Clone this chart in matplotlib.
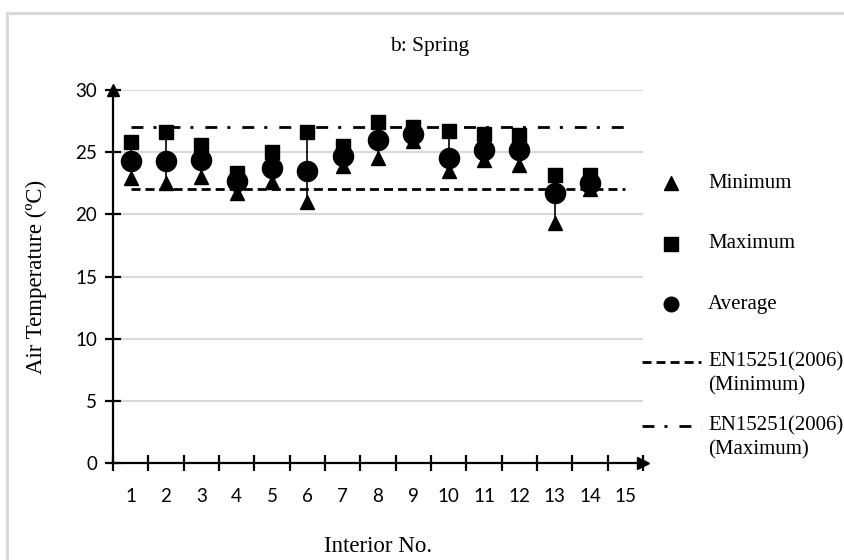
import numpy as np
import matplotlib
matplotlib.use("Agg")
import matplotlib.pyplot as plt
from matplotlib.lines import Line2D

plt.rcParams["lines.scale_dashes"] = False

# data (Spring, air temperature in degC)
interiors = list(range(1, 15))
min_t = [22.9, 22.5, 23.0, 21.7, 22.6, 21.0, 23.9, 24.5, 25.9, 23.5, 24.4, 24.0, 19.3, 22.0]
max_t = [25.8, 26.6, 25.6, 23.3, 25.0, 26.6, 25.5, 27.4, 27.0, 26.7, 26.5, 26.4, 23.2, 23.2]
avg_t = [24.3, 24.3, 24.4, 22.7, 23.7, 23.5, 24.7, 26.0, 26.5, 24.5, 25.2, 25.2, 21.7, 22.5]
x_labels = [str(i) for i in range(1, 16)]
en_min = 22
en_max = 27

SERIF = ["Liberation Serif", "DejaVu Serif"]
SANS = ["Lato", "DejaVu Sans"]

W, H = 844, 560
fig = plt.figure(figsize=(W / 100, H / 100), dpi=100)

def fx(px):
    return px / W

def fy(py):
    return 1 - py / H

# light grey outer frame (left + top edges visible)
fig.add_artist(Line2D([fx(6.5), fx(6.5)], [fy(13), fy(565)], color="#d9d9d9", lw=2.2))
fig.add_artist(Line2D([fx(6.5), fx(850)], [fy(13), fy(13)], color="#d9d9d9", lw=2.2))

ax = fig.add_axes([fx(113), fy(463), fx(643) - fx(113), fy(90) - fy(463)])
ax.set_xlim(0, 15)
ax.set_ylim(0, 30)

pos = np.array(interiors) - 0.5

# grid
ax.set_yticks(range(0, 31, 5))
ax.yaxis.grid(True, color="#d9d9d9", lw=1.5)
ax.set_axisbelow(True)

# standard lines
std_x = np.arange(1, 16) - 0.5
ax.plot(std_x, [en_min] * len(std_x), color="black", lw=2.0, dashes=(6.5, 3.6), zorder=2)
ax.plot(std_x, [en_max] * len(std_x), color="black", lw=2.0, dashes=(8.6, 7.2, 2.2, 8.6), zorder=2)

# min-max bars
ax.vlines(pos, min_t, max_t, color="black", lw=1.2, zorder=3)
ax.plot(pos, max_t, "s", color="black", ms=9.4, zorder=4, ls="none")
ax.plot(pos, min_t, "^", color="black", ms=10.5, zorder=4, ls="none")
ax.plot(pos, avg_t, "o", color="black", ms=14.5, zorder=5, ls="none")

# axes styling
for s in ["top", "right"]:
    ax.spines[s].set_visible(False)
for s in ["left", "bottom"]:
    ax.spines[s].set_linewidth(1.6)
ax.set_xticks(range(0, 16))
ax.set_xticklabels([])
ax.set_xticks(pos.tolist() + [14.5], minor=True)
ax.set_xticklabels(x_labels, minor=True, family=SANS, fontsize=13.5)
ax.tick_params(axis="x", which="major", direction="inout", length=11, width=1.6)
ax.tick_params(axis="x", which="minor", length=0, pad=18)
ax.tick_params(axis="y", direction="inout", length=11, width=1.6, pad=6)
for t in ax.get_yticklabels():
    t.set_family(SANS)
    t.set_fontsize(13.5)

# arrow heads
ax.plot(1, 0, ">", color="black", ms=9, transform=ax.transAxes, clip_on=False)
ax.plot(0, 1, "^", color="black", ms=9, transform=ax.transAxes, clip_on=False)

ax.set_xlabel("Interior No.", family=SERIF, fontsize=16.5, labelpad=22)
ax.set_ylabel("Air Temperature (ºC)", family=SERIF, fontsize=16.5, labelpad=20)
fig.text(fx(430), fy(47), "b: Spring", family=SERIF, fontsize=15.5, ha="center", va="center")

# legend drawn by hand to match spacing
hx0, hx1, hm, tx = 642, 701, 671, 708
fig.add_artist(Line2D([fx(hm)], [fy(183)], marker="^", color="black", ms=10.5, ls="none"))
fig.add_artist(Line2D([fx(hm)], [fy(244)], marker="s", color="black", ms=9.4, ls="none"))
fig.add_artist(Line2D([fx(hm)], [fy(304)], marker="o", color="black", ms=10.5, ls="none"))
fig.add_artist(Line2D([fx(hx0), fx(hx1)], [fy(362), fy(362)], color="black", lw=2.0, dashes=(6.5, 3.6)))
fig.add_artist(Line2D([fx(hx0), fx(hx1)], [fy(426), fy(426)], color="black", lw=2.0, dashes=(8.6, 7.2, 2.2, 8.6)))
leg_txt = [(183, "Minimum"), (244, "Maximum"), (304, "Average"),
           (362, "EN15251(2006)"), (386, "(Minimum)"),
           (426, "EN15251(2006)"), (450, "(Maximum)")]
for yy, s in leg_txt:
    fig.text(fx(tx), fy(yy), s, family=SERIF, fontsize=15, ha="left", va="center")

fig.savefig("out.png", dpi=100)
